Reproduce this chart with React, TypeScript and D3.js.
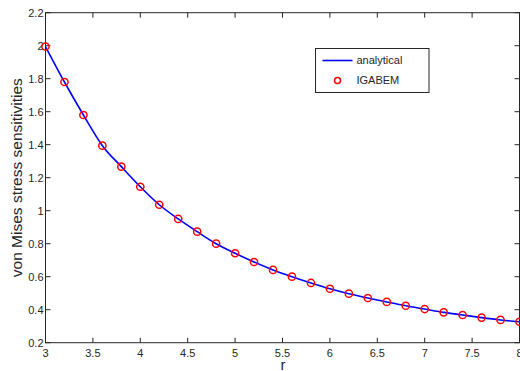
import { useEffect, useRef } from 'react'
import * as d3 from 'd3'

const rValues = [3, 3.2, 3.4, 3.6, 3.8, 4, 4.2, 4.4, 4.6, 4.8, 5, 5.2, 5.4, 5.6, 5.8, 6, 6.2, 6.4, 6.6, 6.8, 7, 7.2, 7.4, 7.6, 7.8, 8]
const analytical = [1.995, 1.78, 1.58, 1.394, 1.267, 1.145, 1.036, 0.95, 0.873, 0.8, 0.742, 0.689, 0.641, 0.6, 0.562, 0.527, 0.497, 0.471, 0.447, 0.424, 0.404, 0.384, 0.368, 0.352, 0.338, 0.327]
const igabem = [1.995, 1.78, 1.58, 1.394, 1.267, 1.145, 1.036, 0.95, 0.873, 0.8, 0.742, 0.689, 0.641, 0.6, 0.562, 0.527, 0.497, 0.471, 0.447, 0.424, 0.404, 0.384, 0.368, 0.352, 0.338, 0.327]
const xTicks = [3, 3.5, 4, 4.5, 5, 5.5, 6, 6.5, 7, 7.5, 8]
const yTicks = [0.2, 0.4, 0.6, 0.8, 1, 1.2, 1.4, 1.6, 1.8, 2, 2.2]

export default function App() {
  const svgRef = useRef<SVGSVGElement>(null)

  useEffect(() => {
    const width = 520
    const height = 371
    const m = { left: 45.5, right: 519.5, top: 12.7, bottom: 342.7 }
    const font = 'Liberation Sans, Arial, sans-serif'
    const axisColor = '#262626'

    const svg = d3.select(svgRef.current)
    svg.selectAll('*').remove()
    svg.attr('width', width).attr('height', height)

    svg.append('rect').attr('width', width).attr('height', height).attr('fill', '#fff')

    const x = d3.scaleLinear().domain([3, 8]).range([m.left, m.right])
    const y = d3.scaleLinear().domain([0.2, 2.2]).range([m.bottom, m.top])

    // ticks para dentro, nos quatro lados
    const tickLen = 5
    const ticks = svg.append('g').attr('stroke', axisColor).attr('stroke-width', 1)
    xTicks.forEach(t => {
      ticks.append('line').attr('x1', x(t)).attr('x2', x(t)).attr('y1', m.bottom).attr('y2', m.bottom - tickLen)
      ticks.append('line').attr('x1', x(t)).attr('x2', x(t)).attr('y1', m.top).attr('y2', m.top + tickLen)
    })
    yTicks.forEach(t => {
      ticks.append('line').attr('x1', m.left).attr('x2', m.left + tickLen).attr('y1', y(t)).attr('y2', y(t))
      ticks.append('line').attr('x1', m.right).attr('x2', m.right - tickLen).attr('y1', y(t)).attr('y2', y(t))
    })

    svg.append('rect')
      .attr('x', m.left).attr('y', m.top)
      .attr('width', m.right - m.left).attr('height', m.bottom - m.top)
      .attr('fill', 'none').attr('stroke', axisColor).attr('stroke-width', 1)

    // rótulos dos ticks
    svg.append('g').selectAll('text')
      .data(xTicks).enter().append('text')
      .attr('x', d => x(d)).attr('y', m.bottom + 14)
      .attr('text-anchor', 'middle')
      .attr('font-family', font).attr('font-size', 11).attr('fill', axisColor)
      .text(d => String(d))

    svg.append('g').selectAll('text')
      .data(yTicks).enter().append('text')
      .attr('x', m.left - 2).attr('y', d => y(d)).attr('dy', '0.35em')
      .attr('text-anchor', 'end')
      .attr('font-family', font).attr('font-size', 11).attr('fill', axisColor)
      .text(d => String(d))

    svg.append('text')
      .attr('x', 283).attr('y', 370)
      .attr('text-anchor', 'middle')
      .attr('font-family', font).attr('font-size', 15).attr('fill', axisColor)
      .text('r')

    svg.append('text')
      .attr('transform', `translate(22,${(m.top + m.bottom) / 2}) rotate(-90)`)
      .attr('text-anchor', 'middle')
      .attr('font-family', font).attr('font-size', 15.5).attr('fill', axisColor)
      .text('von Mises stress sensitivities')

    // curva analítica
    const line = d3.line<number>()
      .x((_, i) => x(rValues[i]))
      .y(d => y(d))
      .curve(d3.curveMonotoneX)

    svg.append('path')
      .datum(analytical)
      .attr('d', line)
      .attr('fill', 'none')
      .attr('stroke', '#0000ff')
      .attr('stroke-width', 1.6)

    svg.append('g').selectAll('circle')
      .data(igabem).enter().append('circle')
      .attr('cx', (_, i) => x(rValues[i]))
      .attr('cy', d => y(d))
      .attr('r', 3.6)
      .attr('fill', 'none')
      .attr('stroke', '#ff0000')
      .attr('stroke-width', 1.5)

    // legenda
    const lg = svg.append('g').attr('transform', 'translate(315.5,48.5)')
    lg.append('rect')
      .attr('width', 113.5).attr('height', 44)
      .attr('fill', '#fff').attr('stroke', axisColor).attr('stroke-width', 1)
    lg.append('line')
      .attr('x1', 7).attr('x2', 37).attr('y1', 12).attr('y2', 12)
      .attr('stroke', '#0000ff').attr('stroke-width', 1.6)
    lg.append('text')
      .attr('x', 41).attr('y', 12).attr('dy', '0.35em')
      .attr('font-family', font).attr('font-size', 11).attr('fill', axisColor)
      .text('analytical')
    lg.append('circle')
      .attr('cx', 22).attr('cy', 32).attr('r', 3)
      .attr('fill', 'none').attr('stroke', '#ff0000').attr('stroke-width', 1.5)
    lg.append('text')
      .attr('x', 41).attr('y', 32).attr('dy', '0.35em')
      .attr('font-family', font).attr('font-size', 11).attr('fill', axisColor)
      .text('IGABEM')
  }, [])

  return (
    <div style={{ position: 'absolute', left: 0, top: 0, width: 520, height: 371, background: '#fff' }}>
      <svg ref={svgRef} style={{ display: 'block' }}></svg>
    </div>
  )
}
